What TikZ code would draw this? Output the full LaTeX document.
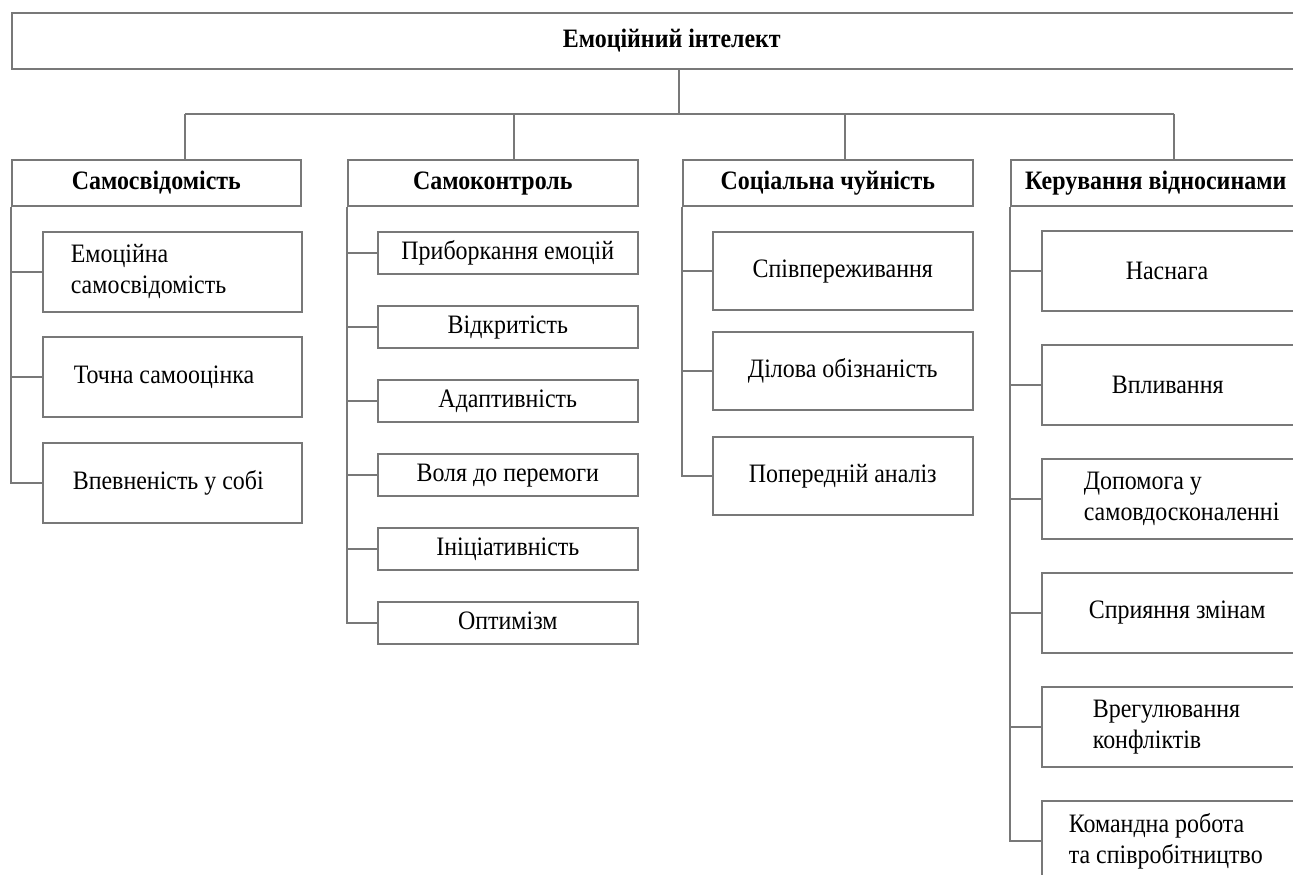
\documentclass[tikz,border=0pt]{standalone}
\usepackage{fontspec}
\setmainfont{Liberation Serif}[FakeStretch=0.9]
\usetikzlibrary{positioning}
\definecolor{linegray}{RGB}{120,120,120}
\tikzset{
  box/.style={draw=linegray,line width=0.8pt,rectangle,anchor=north west,inner sep=2pt},
  head/.style={box,font=\fontsize{13.3}{15.5}\selectfont\bfseries,text height=9.5pt,text depth=3pt,
    minimum width=145pt,minimum height=23pt},
  leaf/.style={box,minimum width=130pt,minimum height=21pt,align=center,text height=9.5pt,text depth=3pt},
  lbox/.style 2 args={box,inner xsep=#1,text width=#2,align=flush left,minimum height=40pt},
  link/.style={draw=linegray,line width=0.8pt}
}

\begin{document}
\begin{tikzpicture}[x=0.5pt,y=-0.5pt,every node/.style={font=\fontsize{13.3}{15.5}\selectfont}]
\useasboundingbox (0,0) rectangle (1293,874);
\clip (0,0) rectangle (1293,874);

% root and groups
\node[head,minimum width=660pt,minimum height=28pt] (top) at (11,12) {Емоційний інтелект};
\node[head,minimum width=144.5pt] (c1) at (11,159) {Самосвідомість};
\node[head] (c2) at (347,159) {Самоконтроль};
\node[head] (c3) at (682,159) {Соціальна чуйність};
\node[head] (c4) at (1010,159) {Керування відносинами};

\coordinate (bus) at (679,114);
\coordinate (d1) at (185,114);
\coordinate (d2) at (514,114);
\coordinate (d3) at (845,114);
\coordinate (d4) at (1174,114);
\draw[link] (top.south -| bus) -- (bus);
\draw[link] (d1) -- (d4);
\foreach \i in {1,...,4} \draw[link] (c\i.north -| d\i) -- (d\i);

% Самосвідомість
\node[lbox={14pt}{101.5pt}] (a1) at (42,231) {Емоційна\\самосвідомість};
\node[lbox={15.5pt}{98.5pt}] (a2) at (42,336) {Точна самооцінка};
\node[lbox={15pt}{99.5pt}] (a3) at (42,442) {Впевненість у собі};
\draw[link] (c1.south west) |- (a3.west);
\foreach \n in {a1,a2} \draw[link] (c1.south west |- \n.west) -- (\n.west);

% Самоконтроль
\foreach \t [count=\i] in {Приборкання емоцій,Відкритість,Адаптивність,Воля до перемоги,Ініціативність,Оптимізм}
  \node[leaf] (b\i) at (377,{231+74*(\i-1)}) {\t};
\draw[link] (c2.south west) |- (b6.west);
\foreach \i in {1,...,5} \draw[link] (c2.south west |- b\i.west) -- (b\i.west);

% Соціальна чуйність
\foreach \t/\y [count=\i] in {Співпереживання/231,Ділова обізнаність/331,Попередній аналіз/436}
  \node[leaf,minimum height=39pt] (s\i) at (712,\y) {\t};
\draw[link] (c3.south west) |- (s3.west);
\foreach \i in {1,2} \draw[link] (c3.south west |- s\i.west) -- (s\i.west);

% Керування відносинами
\node[lbox={42pt}{61pt}] (k1) at (1041,230) {Наснага};
\node[lbox={35pt}{75pt}] (k2) at (1041,344) {Впливання};
\node[lbox={21pt}{103pt}] (k3) at (1041,458) {Допомога у\\самовдосконаленні};
\node[lbox={23.5pt}{98pt}] (k4) at (1041,572) {Сприяння змінам};
\node[lbox={25.5pt}{94pt}] (k5) at (1041,686) {Врегулювання\\конфліктів};
\node[lbox={13.5pt}{118pt}] (k6) at (1041,800) {Командна робота\\та співробітництво};
\draw[link] (c4.south west) |- (k6.west);
\foreach \i in {1,...,5} \draw[link] (c4.south west |- k\i.west) -- (k\i.west);
\end{tikzpicture}
\end{document}
